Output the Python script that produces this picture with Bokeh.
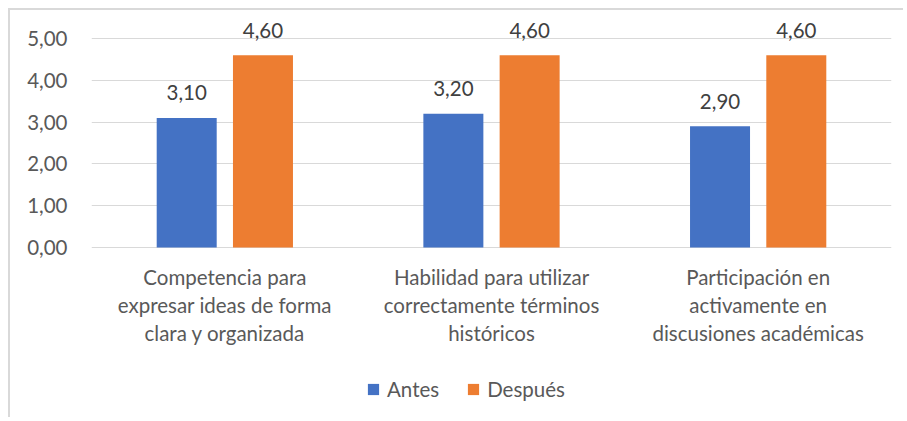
from bokeh.plotting import figure
from bokeh.models import (ColumnDataSource, FactorRange, Range1d, FixedTicker,
                          CustomJSTickFormatter, LabelSet, Legend, LegendItem)
from bokeh.core.properties import value
from bokeh.transform import dodge
from bokeh.embed import file_html
from bokeh.resources import INLINE

categories = [
    "Competencia para\nexpresar ideas de forma\nclara y organizada",
    "Habilidad para utilizar\ncorrectamente términos\nhistóricos",
    "Participación en\nactivamente en\ndiscusiones académicas",
]
antes = [3.10, 3.20, 2.90]
despues = [4.60, 4.60, 4.60]
series = ["Antes", "Después"]
y_ticks = [0, 1, 2, 3, 4, 5]

BLUE = "#4472C4"
ORANGE = "#ED7D31"
FONT = "Lato"
FS = "20.5px"
TXT = "#595959"

def fmt(v):
    return f"{v:.2f}".replace(".", ",")

src = ColumnDataSource(dict(
    cats=categories,
    antes=antes,
    despues=despues,
    antes_lbl=[fmt(v) for v in antes],
    despues_lbl=[fmt(v) for v in despues],
))

p = figure(x_range=FactorRange(factors=categories), y_range=Range1d(-4.115, 5.431),
           width=895, height=409, output_backend="svg", toolbar_location=None,
           min_border_left=81, min_border_right=14, min_border_top=10,
           min_border_bottom=0)
p.styles = {"border-top": "2px solid #d9d9d9", "border-left": "2px solid #d9d9d9",
            "margin-top": "8px", "margin-left": "8px"}

off = 0.143
w = 0.225
r1 = p.vbar(x=dodge("cats", -off, range=p.x_range), top="antes", width=w,
            source=src, fill_color=BLUE, line_color=None)
r2 = p.vbar(x=dodge("cats", off, range=p.x_range), top="despues", width=w,
            source=src, fill_color=ORANGE, line_color=None)

for col, lbl, o in (("antes", "antes_lbl", -off), ("despues", "despues_lbl", off)):
    ls = LabelSet(x=dodge("cats", o, range=p.x_range), y=col, text=lbl, source=src,
                  y_offset=25, text_align="center", text_baseline="middle",
                  text_font=value(FONT), text_font_size=value(FS),
                  text_color="#404040")
    p.add_layout(ls)

legend = Legend(items=[LegendItem(label=series[0], renderers=[r1]),
                       LegendItem(label=series[1], renderers=[r2])],
                location=(275, 18), orientation="horizontal",
                border_line_color=None, background_fill_alpha=0,
                padding=0, margin=0, spacing=27, label_standoff=7,
                glyph_width=14, glyph_height=14, label_height=14,
                label_text_font=FONT, label_text_font_size=FS,
                label_text_color=TXT)
p.add_layout(legend)

p.outline_line_color = None
p.xgrid.grid_line_color = None
p.ygrid.ticker = FixedTicker(ticks=y_ticks)
p.ygrid.grid_line_color = "#D9D9D9"
p.ygrid.grid_line_width = 1

p.yaxis.ticker = FixedTicker(ticks=y_ticks)
p.yaxis.formatter = CustomJSTickFormatter(code="return tick.toFixed(2).replace('.', ',');")
p.yaxis.axis_line_color = None
p.yaxis.major_tick_line_color = None
p.yaxis.minor_tick_line_color = None
p.yaxis.major_tick_out = 0
p.yaxis.major_label_standoff = 24
p.yaxis.major_label_text_font = FONT
p.yaxis.major_label_text_font_size = FS
p.yaxis.major_label_text_color = TXT

p.xaxis.fixed_location = 0
p.xaxis.axis_line_color = None
p.xaxis.major_tick_line_color = None
p.xaxis.major_tick_out = 0
p.xaxis.major_label_standoff = 17
p.xaxis.major_label_text_font = FONT
p.xaxis.major_label_text_font_size = FS
p.xaxis.major_label_text_color = TXT
p.xaxis.major_label_text_line_height = 1.17

open("out.html", "w").write(file_html(p, INLINE))
